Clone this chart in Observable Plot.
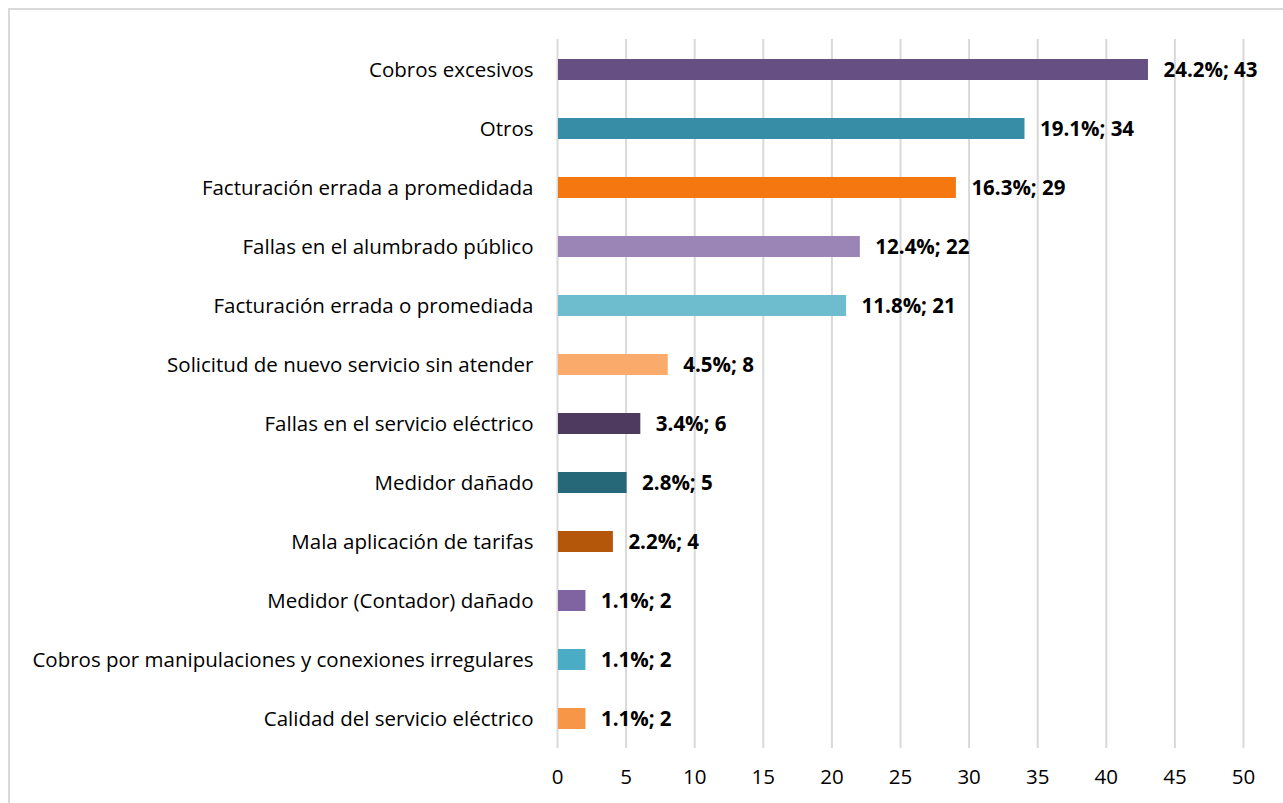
<!DOCTYPE html>
<html>
<head>
<meta charset="utf-8">
<script src="https://cdn.jsdelivr.net/npm/d3@7"></script>
<script src="https://cdn.jsdelivr.net/npm/@observablehq/plot@0.6"></script>
<style>
  html, body { margin: 0; padding: 0; background: #fff; overflow: hidden; }
  #wrap { position: relative; width: 1283px; height: 803px; }
  #border { position: absolute; left: 8px; top: 8px; width: 1300px; height: 820px;
            border: 2px solid #d9d9d9; box-sizing: border-box; pointer-events: none; }
  svg { display: block; }
</style>
</head>
<body>
<div id="wrap"><div id="border"></div></div>
<script>
const categories = [
  "Cobros excesivos",
  "Otros",
  "Facturación errada a promedidada",
  "Fallas en el alumbrado público",
  "Facturación errada o promediada",
  "Solicitud de nuevo servicio sin atender",
  "Fallas en el servicio eléctrico",
  "Medidor dañado",
  "Mala aplicación de tarifas",
  "Medidor (Contador) dañado",
  "Cobros por manipulaciones y conexiones irregulares",
  "Calidad del servicio eléctrico"
];
const counts = [43, 34, 29, 22, 21, 8, 6, 5, 4, 2, 2, 2];
const percents = ["24.2%", "19.1%", "16.3%", "12.4%", "11.8%", "4.5%", "3.4%", "2.8%", "2.2%", "1.1%", "1.1%", "1.1%"];
const colors = ["#664f82", "#378da6", "#f4770f", "#9b84b6", "#6ebdcf", "#faab6c",
                "#4e3a5e", "#276878", "#b5570b", "#8064a2", "#4bacc6", "#f79646"];
const xTicks = [0, 5, 10, 15, 20, 25, 30, 35, 40, 45, 50];

const data = categories.map((c, i) => ({cat: c, n: counts[i], pct: percents[i], color: colors[i]}));

const font = "'Open Sans', sans-serif";

const chart = Plot.plot({
  width: 1283,
  height: 803,
  marginLeft: 557,
  marginRight: 40,
  marginTop: 39,
  marginBottom: 55,
  style: {fontFamily: font, fontSize: "20.5px", color: "#000", background: "transparent"},
  x: {domain: [0, 50], ticks: xTicks, label: null},
  y: {domain: categories, padding: 0, label: null},
  marks: [
    Plot.gridX(xTicks, {stroke: "#d9d9d9", strokeOpacity: 1, strokeWidth: 2}),
    Plot.barX(data, {x1: 0, x2: "n", y: "cat", fill: "color", insetTop: 19, insetBottom: 19, dx: 1}),
    Plot.text(data, {x: "n", y: "cat", text: d => `${d.pct}; ${d.n}`, dx: 16, textAnchor: "start",
                     fontWeight: "bold", fontSize: 20.5, fill: "#000", fontFamily: font}),
    Plot.axisX({ticks: xTicks, tickSize: 0, tickPadding: 21, fontSize: 20.5, label: null, fontFamily: font}),
    Plot.axisY({tickSize: 0, tickPadding: 24, fontSize: 20.5, label: null, fontFamily: font})
  ]
});
document.getElementById("wrap").prepend(chart);
</script>
</body>
</html>
